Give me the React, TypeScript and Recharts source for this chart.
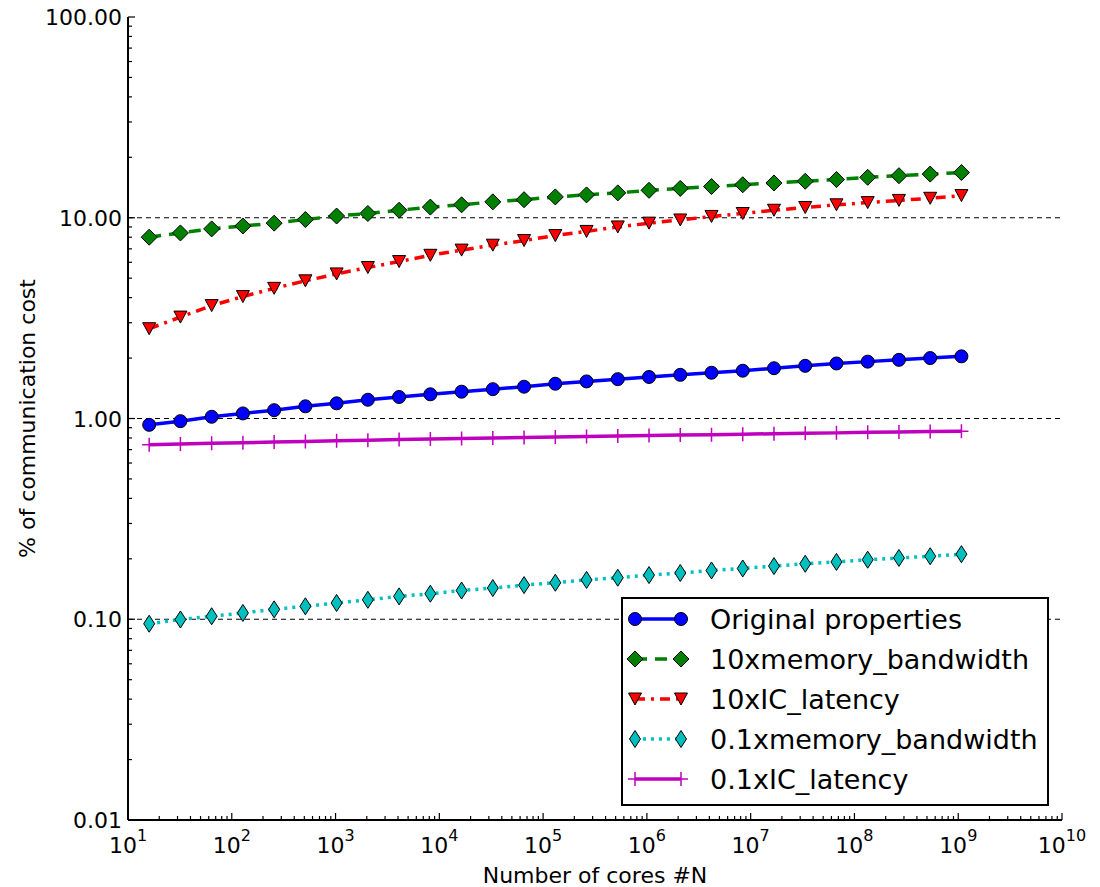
import React from 'react';
import { LineChart, Line, XAxis, YAxis, ReferenceLine, Legend } from 'recharts';

// number of cores (powers of two, 2^4 .. 2^30)
const cores = [
    16, 32, 64, 128, 256, 512, 1024, 2048, 4096, 8192, 16384, 32768, 65536,
    131072, 262144, 524288, 1048576, 2097152, 4194304, 8388608, 16777216,
    33554432, 67108864, 134217728, 268435456, 536870912, 1073741824,
];

const original = [
    0.93, 0.97, 1.02, 1.06, 1.10, 1.15, 1.19, 1.24, 1.28, 1.32, 1.36, 1.40, 1.44, 1.49,
    1.53, 1.57, 1.61, 1.65, 1.69, 1.73, 1.78, 1.83, 1.88, 1.92, 1.96, 2.00, 2.04,
];
const memBw10 = [
    8.0, 8.4, 8.8, 9.1, 9.4, 9.8, 10.2, 10.5, 10.9, 11.3, 11.6, 12.0, 12.3, 12.7,
    13.0, 13.3, 13.7, 14.0, 14.3, 14.6, 14.9, 15.2, 15.5, 15.9, 16.2, 16.5, 16.8,
];
const icLat10 = [
    2.8, 3.2, 3.65, 4.05, 4.45, 4.85, 5.25, 5.65, 6.05, 6.5, 6.9, 7.3, 7.7, 8.15,
    8.55, 9.0, 9.4, 9.75, 10.15, 10.5, 10.9, 11.25, 11.6, 11.9, 12.2, 12.5, 12.9,
];
const memBw01 = [
    0.095, 0.0997, 0.1035, 0.1075, 0.112, 0.116, 0.1205, 0.125, 0.13, 0.134, 0.139,
    0.143, 0.148, 0.152, 0.157, 0.161, 0.166, 0.170, 0.175, 0.179, 0.184, 0.189,
    0.193, 0.198, 0.202, 0.206, 0.211,
];
const icLat01 = [
    0.740, 0.746, 0.752, 0.758, 0.763, 0.769, 0.775, 0.780, 0.786, 0.791, 0.795,
    0.800, 0.804, 0.809, 0.813, 0.818, 0.822, 0.827, 0.831, 0.835, 0.840, 0.844,
    0.848, 0.853, 0.857, 0.861, 0.865,
];

const xMajor = [1e1, 1e2, 1e3, 1e4, 1e5, 1e6, 1e7, 1e8, 1e9, 1e10];
const yMajor = [0.01, 0.1, 1, 10, 100];
const yGrid = [0.1, 1, 10];

const minorsOf = (majors: number[]) =>
    majors.slice(0, -1).flatMap(m => [2, 3, 4, 5, 6, 7, 8, 9].map(k => k * m));
const xTicks = [...xMajor, ...minorsOf(xMajor)].sort((a, b) => a - b);
const yTicks = [...yMajor, ...minorsOf(yMajor)].sort((a, b) => a - b);

const FONT = "'DejaVu Sans', sans-serif";

type MarkerKind = 'circle' | 'diamond' | 'triangleDown' | 'thinDiamond' | 'plus';

const series: { key: string; name: string; values: number[]; color: string; dash?: string; marker: MarkerKind }[] = [
    { key: 'orig', name: 'Original properties', values: original, color: '#0000ff', marker: 'circle' },
    { key: 'mem10', name: '10xmemory_bandwidth', values: memBw10, color: '#008000', dash: '12 8', marker: 'diamond' },
    { key: 'lat10', name: '10xIC_latency', values: icLat10, color: '#ff0000', dash: '10 6 3 6', marker: 'triangleDown' },
    { key: 'mem01', name: '0.1xmemory_bandwidth', values: memBw01, color: '#00bfbf', dash: '3 5', marker: 'thinDiamond' },
    { key: 'lat01', name: '0.1xIC_latency', values: icLat01, color: '#bf00bf', marker: 'plus' },
];

const data = cores.map((n, i) => {
    const row: Record<string, number> = { n };
    series.forEach(s => { row[s.key] = s.values[i]; });
    return row;
});

const Marker = ({ kind, cx, cy, color }: { kind: MarkerKind; cx: number; cy: number; color: string }) => {
    const edge = { stroke: '#000', strokeWidth: 1, fill: color };
    switch (kind) {
        case 'circle':
            return <circle cx={cx} cy={cy} r={6.5} {...edge} />;
        case 'diamond':
            return <polygon points={`${cx},${cy - 8} ${cx + 8},${cy} ${cx},${cy + 8} ${cx - 8},${cy}`} {...edge} />;
        case 'triangleDown':
            return <polygon points={`${cx - 6.5},${cy - 6} ${cx + 6.5},${cy - 6} ${cx},${cy + 6}`} {...edge} />;
        case 'thinDiamond':
            return <polygon points={`${cx},${cy - 8.5} ${cx + 5.5},${cy} ${cx},${cy + 8.5} ${cx - 5.5},${cy}`} {...edge} />;
        case 'plus':
        default:
            return (
                <path d={`M${cx - 7},${cy}H${cx + 7}M${cx},${cy - 7}V${cy + 7}`} stroke={color} strokeWidth={1.5} fill="none" />
            );
    }
};

const isMajor = (v: number, majors: number[]) => majors.some(m => Math.abs(v - m) / m < 1e-9);

const XTick = (props: any) => {
    const { x, y, payload, side } = props;
    const major = isMajor(payload.value, xMajor);
    const len = major ? 7 : 4;
    const dir = side === 'bottom' ? -1 : 1;
    const exp = Math.round(Math.log10(payload.value));
    return (
        <g>
            <line x1={x} y1={y} x2={x} y2={y + dir * len} stroke="#000" strokeWidth={1.2} />
            {major && side === 'bottom' && (
                <text x={x} y={y + 33} textAnchor="middle" fontSize={22} fontFamily={FONT} fill="#000">
                    10<tspan dy={-12} fontSize={16}>{exp}</tspan>
                </text>
            )}
        </g>
    );
};

const YTick = (props: any) => {
    const { x, y, payload, side } = props;
    const major = isMajor(payload.value, yMajor);
    const len = major ? 7 : 4;
    const dir = side === 'left' ? 1 : -1;
    return (
        <g>
            <line x1={x} y1={y} x2={x + dir * len} y2={y} stroke="#000" strokeWidth={1.2} />
            {major && side === 'left' && (
                <text x={x - 6} y={y + 8} textAnchor="end" fontSize={22} fontFamily={FONT} fill="#000">
                    {payload.value.toFixed(2)}
                </text>
            )}
        </g>
    );
};

const XLabel = ({ viewBox }: any) => (
    <text x={viewBox.x + viewBox.width / 2} y={viewBox.y + 63} textAnchor="middle" fontSize={22} fontFamily={FONT} fill="#000">
        Number of cores #N
    </text>
);

const YLabel = ({ viewBox }: any) => {
    const x = viewBox.x + 27;
    const y = viewBox.y + viewBox.height / 2;
    return (
        <text x={x} y={y} transform={`rotate(-90 ${x} ${y})`} textAnchor="middle" fontSize={22} fontFamily={FONT} fill="#000">
            % of communication cost
        </text>
    );
};

const LegendBox = () => (
    <svg width={428} height={209} style={{ display: 'block' }}>
        <rect x={1} y={1} width={426} height={207} fill="#fff" stroke="#000" strokeWidth={2} />
        {series.map((s, i) => {
            const cy = 22 + i * 40;
            return (
                <g key={s.key}>
                    <line x1={14} y1={cy} x2={60} y2={cy} stroke={s.color} strokeWidth={3.5} strokeDasharray={s.dash} />
                    <Marker kind={s.marker} cx={14} cy={cy} color={s.color} />
                    <Marker kind={s.marker} cx={60} cy={cy} color={s.color} />
                    <text x={89} y={cy + 10} fontSize={27} fontFamily={FONT} fill="#000">{s.name}</text>
                </g>
            );
        })}
    </svg>
);

export default function App() {
    return (
        <div style={{ position: 'absolute', left: 0, top: 0, background: '#fff' }}>
            <LineChart width={1100} height={887} data={data} margin={{ top: 17, right: 38, left: 8, bottom: 7 }}>
                <XAxis
                    dataKey="n"
                    type="number"
                    scale="log"
                    domain={[1e1, 1e10]}
                    ticks={xTicks}
                    interval={0}
                    allowDataOverflow
                    height={60}
                    tickSize={0}
                    tickMargin={0}
                    tickLine={false}
                    axisLine={{ stroke: '#000', strokeWidth: 2 }}
                    tick={(p: any) => <XTick {...p} side="bottom" />}
                    label={<XLabel />}
                />
                <XAxis
                    xAxisId="top"
                    orientation="top"
                    dataKey="n"
                    type="number"
                    scale="log"
                    domain={[1e1, 1e10]}
                    ticks={xTicks}
                    interval={0}
                    allowDataOverflow
                    height={0}
                    tickSize={0}
                    tickMargin={0}
                    tickLine={false}
                    axisLine={{ stroke: '#000', strokeWidth: 2 }}
                    tick={(p: any) => <XTick {...p} side="top" />}
                />
                <YAxis
                    type="number"
                    scale="log"
                    domain={[0.01, 100]}
                    ticks={yTicks}
                    interval={0}
                    allowDataOverflow
                    width={120}
                    tickSize={0}
                    tickMargin={0}
                    tickLine={false}
                    axisLine={{ stroke: '#000', strokeWidth: 2 }}
                    tick={(p: any) => <YTick {...p} side="left" />}
                    label={<YLabel />}
                />
                <YAxis
                    yAxisId="right"
                    orientation="right"
                    type="number"
                    scale="log"
                    domain={[0.01, 100]}
                    ticks={yTicks}
                    interval={0}
                    allowDataOverflow
                    width={0}
                    tickSize={0}
                    tickMargin={0}
                    tickLine={false}
                    axisLine={{ stroke: '#000', strokeWidth: 2 }}
                    tick={(p: any) => <YTick {...p} side="right" />}
                />
                {yGrid.map(v => (
                    <ReferenceLine key={v} y={v} stroke="#000" strokeWidth={1} strokeDasharray="5 4" />
                ))}
                {series.map(s => (
                    <Line
                        key={s.key}
                        dataKey={s.key}
                        name={s.name}
                        stroke={s.color}
                        strokeWidth={3.5}
                        strokeDasharray={s.dash}
                        isAnimationActive={false}
                        activeDot={false}
                        dot={(p: any) => (
                            <Marker key={`${s.key}-${p.index}`} kind={s.marker} cx={p.cx} cy={p.cy} color={s.color} />
                        )}
                    />
                ))}
                <Legend
                    layout="horizontal"
                    verticalAlign="middle"
                    align="center"
                    wrapperStyle={{ left: 621, top: 597, width: 428, height: 209 }}
                    content={() => <LegendBox />}
                />
            </LineChart>
        </div>
    );
}
